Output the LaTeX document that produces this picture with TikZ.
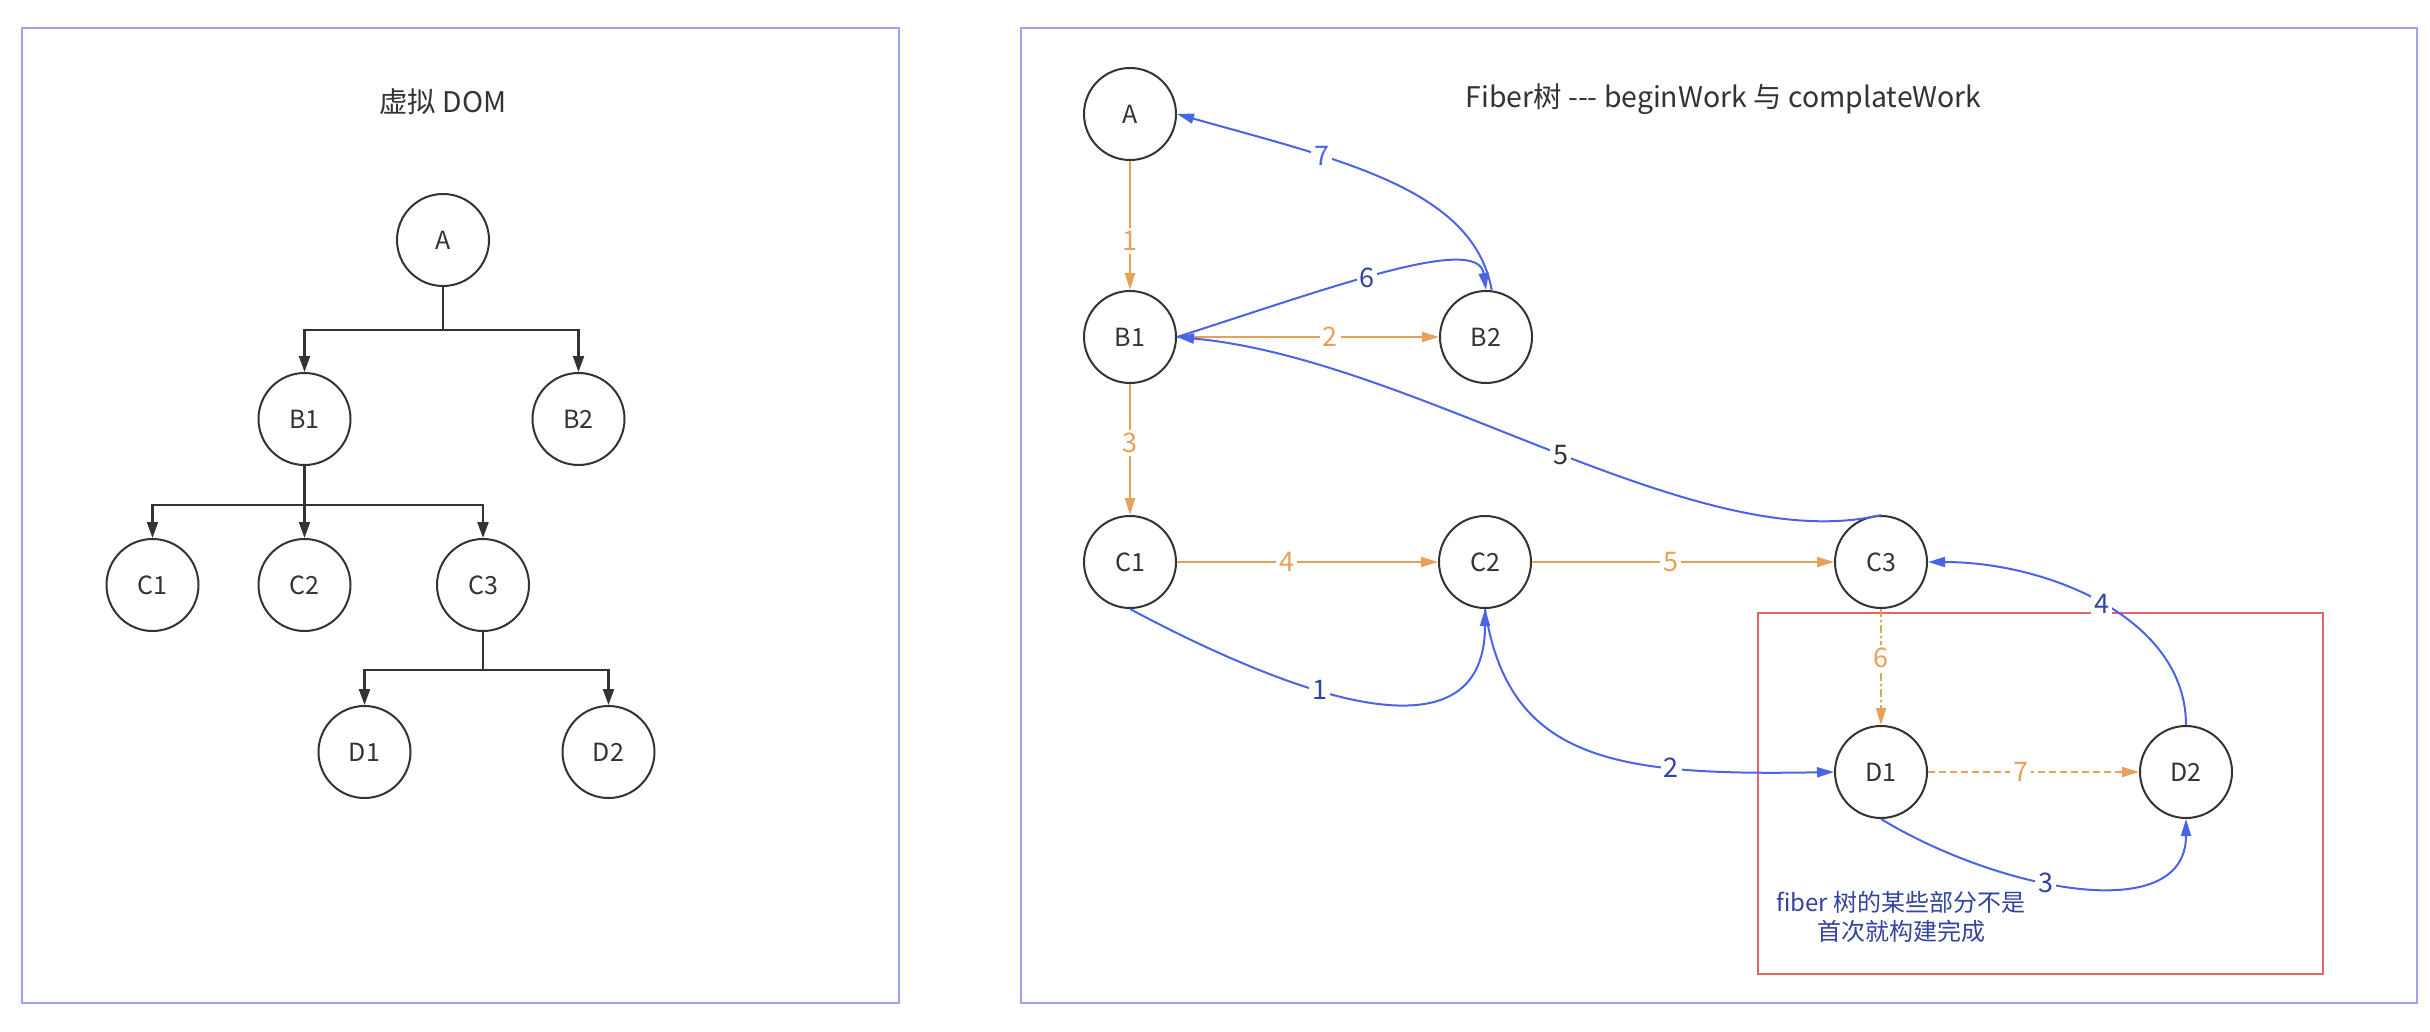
\documentclass[tikz,border=0pt]{standalone}
\usepackage{fontspec}
\setmainfont{Noto Sans CJK SC}
\usetikzlibrary{arrows.meta}
\definecolor{nodeline}{HTML}{333333}
\definecolor{orangeln}{HTML}{E8A05A}
\definecolor{blueln}{HTML}{4A64E6}
\definecolor{navy}{HTML}{33449E}
\definecolor{panelln}{HTML}{9EA4EE}
\definecolor{redbox}{HTML}{E06666}
\begin{document}
\begin{tikzpicture}[x=0.5pt,y=-0.5pt,
  circ/.style={circle,draw=nodeline,line width=1pt,minimum size=46pt,inner sep=0pt,
    font=\fontsize{12.5}{14}\selectfont,text=nodeline},
  treearr/.style={draw=nodeline,line width=1.1pt,-{Triangle[length=8pt,width=5.5pt]}},
  oarr/.style={draw=orangeln,line width=1pt,-{Triangle[length=8.5pt,width=5pt]}},
  barr/.style={draw=blueln,line width=1pt,-{Triangle[length=8.5pt,width=5pt]}},
  olab/.style={fill=white,inner sep=1.5pt,text=orangeln,font=\fontsize{13.5}{15}\selectfont},
  blab/.style={fill=white,inner sep=1.5pt,text=navy,font=\fontsize{13.5}{15}\selectfont},
  titletext/.style={text=nodeline,font=\fontsize{14.2}{17}\selectfont,inner sep=0pt},
  panel/.style={draw=panelln,line width=0.8pt}
]
\useasboundingbox (0,0) rectangle (2430,1032);
\fill[white] (0,0) rectangle (2430,1032);
% panels
\draw[panel] (22,28) rectangle (899,1003);
\draw[panel] (1021,28) rectangle (2417,1003);
\draw[draw=redbox,line width=0.8pt] (1758,613) rectangle (2323,974);

% ---------- left: virtual DOM ----------
\node[titletext] (t1) at (443,102) {虚拟 DOM};
\node[circ] (A)  at (443,240) {A};
\node[circ] (B1) at (304.5,419) {B1};
\node[circ] (B2) at (578.5,419) {B2};
\node[circ] (C1) at (152.5,585) {C1};
\node[circ] (C2) at (304.5,585) {C2};
\node[circ] (C3) at (483,585) {C3};
\node[circ] (D1) at (364.5,752) {D1};
\node[circ] (D2) at (608.5,752) {D2};
\draw[treearr] (A.south) -- ++(0,43) -| (B1.north);
\draw[treearr] (A.south) -- ++(0,43) -| (B2.north);
\draw[treearr] (B1.south) -- ++(0,39) -| (C1.north);
\draw[treearr] (B1.south) -- (C2.north);
\draw[treearr] (B1.south) -- ++(0,39) -| (C3.north);
\draw[treearr] (C3.south) -- ++(0,38) -| (D1.north);
\draw[treearr] (C3.south) -- ++(0,38) -| (D2.north);

% ---------- right: fiber tree ----------
\node[titletext] (t2) at (1723.5,99) {Fiber树 -{}-{}- beginWork 与 complateWork};
\node[circ] (RA)  at (1130,114) {A};
\node[circ] (RB1) at (1130,337) {B1};
\node[circ] (RB2) at (1486,337) {B2};
\node[circ] (RC1) at (1130,562) {C1};
\node[circ] (RC2) at (1485,562) {C2};
\node[circ] (RC3) at (1881,562) {C3};
\node[circ] (RD1) at (1881,772) {D1};
\node[circ] (RD2) at (2186,772) {D2};
\node[align=center,text=navy,font=\fontsize{12}{14.5}\selectfont,inner sep=0pt] (cap) at (1901,917)
  {fiber 树的某些部分不是\\首次就构建完成};

% orange (beginWork)
\draw[oarr] (RA) -- node[olab,pos=0.62]{1} (RB1);
\draw[oarr] (RB1) -- node[olab,pos=0.585]{2} (RB2);
\draw[oarr] (RB1) -- node[olab,pos=0.45]{3} (RC1);
\draw[oarr] (RC1) -- node[olab,pos=0.42]{4} (RC2);
\draw[oarr] (RC2) -- node[olab,pos=0.46]{5} (RC3);
\draw[oarr,dash pattern=on 4pt off 1.6pt on 0.8pt off 1.6pt] (RC3) -- node[olab,pos=0.42]{6} (RD1);
\draw[oarr,dash pattern=on 3.5pt off 2pt] (RD1) -- node[olab,pos=0.44]{7} (RD2);

% blue (completeWork)
\draw[barr] (RC1.south) .. controls +(150,80) and +(0,162) .. node[blab,pos=0.4]{1} (RC2.south);
\draw[barr] (RC2.south) .. controls +(23,152) and +(-219,4) .. node[blab,pos=0.71]{2} (RD1.west);
\draw[barr] (RD1.south) .. controls +(115,70) and +(0,110) .. node[blab,pos=0.42]{3} (RD2.south);
\draw[barr] (RD2.north) .. controls +(0,-107) and +(119,0) .. node[blab,pos=0.5]{4} (RC3.east);
\draw[barr] (RC3.north) .. controls +(-185,44) and +(240,22) .. node[blab,text=nodeline,pos=0.485]{5} (RB1.east);
\draw[barr] (RB1.east) .. controls +(150,-48) and +(-8,-57) .. node[blab,pos=0.45]{6} (RB2.north);
\draw[barr] (RB2.83) .. controls +(-18,-102) and +(163,46) .. node[blab,text=blueln,pos=0.68]{7} (RA.east);
\end{tikzpicture}
\end{document}
